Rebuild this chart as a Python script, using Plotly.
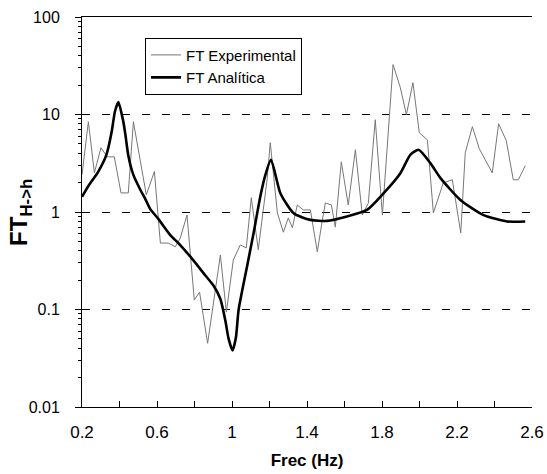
import plotly.graph_objects as go

# Experimental transfer function
freq_exp = [0.20, 0.234, 0.266, 0.301, 0.335, 0.372, 0.408, 0.447, 0.474, 0.543,
            0.586, 0.618, 0.66, 0.698, 0.724, 0.76, 0.799, 0.827, 0.87, 0.938,
            0.97, 1.007, 1.044, 1.076, 1.103, 1.14, 1.187, 1.204, 1.242, 1.274,
            1.30, 1.322, 1.348, 1.38, 1.418, 1.455, 1.482, 1.498, 1.53, 1.551,
            1.583, 1.62, 1.658, 1.695, 1.727, 1.764, 1.802, 1.859, 1.898, 1.93,
            1.965, 1.999, 2.042, 2.074, 2.127, 2.175, 2.22, 2.244, 2.282, 2.319,
            2.388, 2.422, 2.463, 2.50, 2.527, 2.564]
ft_exp = [2.40, 8.43, 2.52, 4.56, 3.68, 3.68, 1.57, 1.57, 8.43, 1.50,
          2.6, 0.48, 0.48, 0.44, 0.54, 0.93, 0.125, 0.151, 0.045, 0.362,
          0.094, 0.322, 0.459, 0.428, 1.40, 0.41, 2.14, 5.13, 0.98, 0.62,
          0.87, 0.69, 1.18, 1.05, 1.05, 0.39, 0.83, 1.24, 1.18, 0.70,
          3.27, 1.18, 4.35, 0.93, 1.23, 8.84, 0.93, 32.5, 18.8, 9.95,
          21.2, 6.5, 5.5, 0.98, 1.99, 2.14, 0.61, 4.05, 7.5, 4.45,
          2.52, 8.04, 5.38, 2.14, 2.14, 2.98]

# Analytical transfer function
freq_ana = [0.2, 0.234, 0.287, 0.331, 0.358, 0.376, 0.394, 0.42, 0.431, 0.447,
            0.474, 0.511, 0.536, 0.564, 0.607, 0.671, 0.714, 0.778, 0.849, 0.902,
            0.938, 0.964, 0.982, 1.003, 1.021, 1.035, 1.08, 1.115, 1.151, 1.178,
            1.208, 1.258, 1.329, 1.418, 1.507, 1.613, 1.72, 1.809, 1.898, 1.951,
            1.995, 2.058, 2.111, 2.218, 2.342, 2.467, 2.564]
ft_ana = [1.43, 1.85, 2.6, 3.9, 6.6, 10.8, 13.4, 8.5, 6.3, 3.8,
          2.4, 1.69, 1.38, 1.07, 0.85, 0.58, 0.48, 0.348, 0.235, 0.175,
          0.128, 0.078, 0.05, 0.038, 0.052, 0.0986, 0.275, 0.605, 1.44, 2.4,
          3.43, 1.56, 0.97, 0.83, 0.81, 0.90, 1.05, 1.56, 2.5, 3.86,
          4.35, 3.17, 2.24, 1.33, 0.93, 0.80, 0.80]

x_tickvals = [0.2, 0.6, 1.0, 1.4, 1.8, 2.2, 2.6]
x_ticktext = ["0.2", "0.6", "1", "1.4", "1.8", "2.2", "2.6"]
x_minorvals = [0.4, 0.8, 1.2, 1.6, 2.0, 2.4]
y_tickvals = [0.01, 0.1, 1, 10, 100]
y_ticktext = ["0.01", "0.1", "1", "10", "100"]
y_decades = [0.01, 0.1, 1, 10]
y_minor_mult = [2, 3, 4, 5, 6, 7, 8, 9]
y_minorvals = [d * m for d in y_decades for m in y_minor_mult]

FONT = "Liberation Sans, Arial, Helvetica, sans-serif"

fig = go.Figure()
fig.add_trace(go.Scatter(x=freq_exp, y=ft_exp, mode="lines", name="FT Experimental",
                         line=dict(color="#777777", width=1)))
fig.add_trace(go.Scatter(x=freq_ana, y=ft_ana, mode="lines", name="FT Analítica",
                         line=dict(color="black", width=2.6, shape="spline", smoothing=0.6)))

fig.update_layout(
    width=547, height=474,
    margin=dict(l=82, r=15, t=17, b=67),
    plot_bgcolor="white", paper_bgcolor="white",
    font=dict(family=FONT, color="black", size=16),
    legend=dict(x=0.14, y=0.947, xanchor="left", yanchor="top",
                bordercolor="black", borderwidth=1, bgcolor="white",
                font=dict(size=15, family=FONT), tracegroupgap=0),
    xaxis=dict(range=[0.2, 2.6], tickmode="array", tickvals=x_tickvals, ticktext=x_ticktext,
               ticks="inside", ticklen=6, tickcolor="black", showline=True, linecolor="black",
               linewidth=1, mirror=True, showgrid=False, zeroline=False, automargin=False,
               tickfont=dict(size=17), ticklabelstandoff=10,
               minor=dict(tickmode="array", tickvals=x_minorvals, ticks="inside", ticklen=6,
                          tickcolor="black"),
               title=dict(text="<b>Frec (Hz)</b>", font=dict(size=17), standoff=12)),
    yaxis=dict(type="log", range=[-2, 2], tickmode="array", tickvals=y_tickvals, ticktext=y_ticktext,
               ticks="outside", ticklen=6, tickcolor="black", showline=True, linecolor="black",
               linewidth=1, showgrid=True, gridcolor="black", gridwidth=1, griddash="8px,12px",
               tickfont=dict(size=16), ticklabelstandoff=12, automargin=False,
               minor=dict(tickmode="array", tickvals=y_minorvals, ticks="outside", ticklen=3,
                          tickcolor="black", showgrid=False)),
)

fig.add_annotation(text="<b>FT<sub>H-&gt;h</sub></b>", textangle=-90,
                   xref="paper", yref="paper", x=-0.138, y=0.5,
                   xanchor="center", yanchor="middle", showarrow=False,
                   font=dict(size=24, family=FONT, color="black"))

fig.write_html("out.html", config={"displayModeBar": False},
               post_script="document.body.style.margin='0px';document.body.style.overflow='hidden';")
